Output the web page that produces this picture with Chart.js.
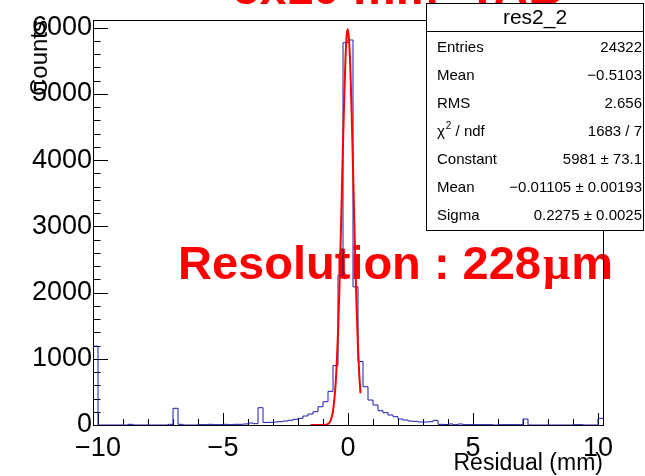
<!DOCTYPE html>
<html><head><meta charset="utf-8">
<script src="https://cdn.jsdelivr.net/npm/chart.js@4"></script>
<style>html,body{margin:0;padding:0;background:#fff;}canvas{display:block;}</style>
</head><body>
<canvas id="c" width="645" height="476"></canvas>
<script>
// ---- data ----
const xMin = -10.2, xMax = 10.2, binWidth = 0.2;
const binCounts = [
 1191, 0, 0, 0, 0, 0, 0, 10, 0, 0,
 0, 0, 0, 0, 0, 10, 252, 10, 0, 0,
 0, 5, 5, 10, 5, 5, 10, 5, 10, 10,
 15, 30, 20, 261, 38, 40, 45, 50, 60, 71,
 86, 101, 136, 166, 201, 276, 352, 508, 898, 2265,
 5773, 5814, 2086, 960, 578, 377, 302, 216, 186, 151,
 126, 90, 75, 60, 55, 45, 45, 50, 70, 10,
 8, 15, 5, 15, 5, 5, 5, 5, 5, 5,
 0, 5, 5, 5, 5, 5, 90, 0, 0, 0,
 0, 0, 0, 0, 0, 0, 5, 5, 0, 0,
 0, 100
];
const yMax = 6116;
const xTickLabels = [-10, -5, 0, 5, 10];
const yTickLabels = [0, 1000, 2000, 3000, 4000, 5000, 6000];
const fitX = [-1.5,-1.3,-1.1,-1.0,-0.9,-0.8,-0.7,-0.6,-0.5,-0.45,-0.4,-0.35,-0.3,-0.25,-0.2,-0.15,-0.1,-0.05,-0.011,0.05,0.1,0.15,0.2,0.25,0.3,0.35,0.4,0.45,0.5];
const fitY = [0,0,0,0.5,3,15,61,210,595,930,1388,1971,2671,3448,4237,4962,5541,5894,5981,5770,5311,4656,3889,3097,2349,1698,1171,768,480];
const statTitle = 'res2_2';
const statLabels = ['Entries','Mean','RMS','CHI','Constant','Mean','Sigma'];
const statValues = ['24322','\u22120.5103','2.656','1683 / 7','5981 \u00b1 73.1','\u22120.01105 \u00b1 0.00193','0.2275 \u00b1 0.0025'];
const titleText = '5x10 mm\u00b2 TAB';
const resText = ['Resolution : 228', '\u03bc', 'm'];
const xTitle = 'Residual (mm)';
const yTitle = 'Counts';

// ---- build ----
const F = "'Liberation Sans', Arial, Helvetica, sans-serif";
const FS = "'Liberation Serif', 'Times New Roman', serif";
const fmt = v => (v < 0 ? '\u2212' + Math.abs(v) : String(v));
const histPoints = binCounts.map((c, i) => ({x: xMin + i * binWidth, y: c}));
histPoints.push({x: xMax, y: binCounts[binCounts.length - 1]});
const fitPoints = fitX.map((x, i) => ({x: x, y: fitY[i]}));

const decor = {
  id: 'decor',
  beforeDatasetsDraw(chart) {
    const ctx = chart.ctx, a = chart.chartArea;
    const xs = chart.scales.x, ys = chart.scales.y;
    ctx.save();
    // resolution text (under histogram)
    ctx.fillStyle = '#ff0000';
    ctx.textBaseline = 'alphabetic';
    ctx.textAlign = 'left';
    let px = 178;
    ctx.font = 'bold 47px ' + F;
    ctx.fillText(resText[0], px, 279);
    px += ctx.measureText(resText[0]).width + 2;
    ctx.font = 'bold 48px ' + FS;
    ctx.fillText(resText[1], px, 279);
    px += ctx.measureText(resText[1]).width + 1;
    ctx.font = 'bold 47px ' + F;
    ctx.fillText(resText[2], px, 279);
    // frame
    ctx.strokeStyle = '#000';
    ctx.lineWidth = 1;
    ctx.strokeRect(Math.round(a.left) + 0.5, Math.round(a.top) + 0.5, Math.round(a.right - a.left), Math.round(a.bottom - a.top));
    // ticks
    ctx.beginPath();
    for (let v = 0; v <= yMax; v += 200) {
      const y = Math.round(ys.getPixelForValue(v)) + 0.5;
      const len = (v % 1000 === 0) ? 15 : 7.5;
      ctx.moveTo(a.left, y); ctx.lineTo(a.left + len, y);
    }
    for (let v = -10; v <= 10; v += 1) {
      const x = Math.round(xs.getPixelForValue(v)) + 0.5;
      const len = (v % 5 === 0) ? 12 : 6;
      ctx.moveTo(x, a.bottom); ctx.lineTo(x, a.bottom - len);
    }
    ctx.stroke();
    ctx.restore();
  },
  afterDraw(chart) {
    const ctx = chart.ctx, a = chart.chartArea;
    ctx.save();
    ctx.fillStyle = '#000';
    // axis titles
    ctx.font = '23px ' + F;
    ctx.textAlign = 'right';
    ctx.textBaseline = 'alphabetic';
    ctx.fillText(xTitle, a.right, 470);
    ctx.save();
    ctx.translate(47, a.top);
    ctx.rotate(-Math.PI / 2);
    ctx.font = '24px ' + F;
    ctx.textAlign = 'right';
    ctx.fillText(yTitle, 0, 0);
    ctx.restore();
    // big title (cut off at top)
    ctx.fillStyle = '#ff0000';
    ctx.font = 'bold 48px ' + F;
    ctx.textAlign = 'left';
    ctx.fillText(titleText, 233, 4);
    // stats box
    const bx = 426.5, by = 3.5, bw = 217, bh = 227;
    ctx.fillStyle = '#fff';
    ctx.fillRect(bx, by, bw, bh);
    ctx.strokeStyle = '#000';
    ctx.lineWidth = 1;
    ctx.strokeRect(bx, by, bw, bh);
    ctx.beginPath();
    ctx.moveTo(bx, 31.5); ctx.lineTo(bx + bw, 31.5);
    ctx.stroke();
    ctx.fillStyle = '#000';
    ctx.font = '21px ' + F;
    ctx.textAlign = 'center';
    ctx.fillText(statTitle, bx + bw / 2, 23.5);
    ctx.font = '15px ' + F;
    for (let i = 0; i < statLabels.length; i++) {
      const yb = 51.5 + i * 28.1;
      ctx.textAlign = 'left';
      if (statLabels[i] === 'CHI') {
        ctx.fillText('\u03c7', 437, yb);
        let w = ctx.measureText('\u03c7').width;
        ctx.font = '10px ' + F;
        ctx.fillText('2', 437 + w + 1, yb - 7);
        let w2 = ctx.measureText('2').width;
        ctx.font = '15px ' + F;
        ctx.fillText(' / ndf', 437 + w + 1 + w2, yb);
      } else {
        ctx.fillText(statLabels[i], 437, yb);
      }
      ctx.textAlign = 'right';
      ctx.fillText(statValues[i], 642, yb);
    }
    ctx.restore();
  }
};

new Chart(document.getElementById('c'), {
  type: 'line',
  data: {
    datasets: [
      { data: fitPoints, borderColor: '#ff0000', borderWidth: 2, pointRadius: 0, cubicInterpolationMode: 'monotone', fill: false },
      { data: histPoints, borderColor: '#1c1cb0', borderWidth: 1, pointRadius: 0, stepped: 'before', fill: false }
    ]
  },
  options: {
    responsive: false, animation: false, devicePixelRatio: 1,
    layout: { padding: { top: 20, right: 42, left: 0, bottom: 0 } },
    plugins: { legend: { display: false }, tooltip: { enabled: false } },
    scales: {
      x: {
        type: 'linear', min: xMin, max: xMax,
        grid: { display: false, drawTicks: false }, border: { display: false },
        afterBuildTicks: s => { s.ticks = xTickLabels.map(v => ({ value: v })); },
        afterFit: s => { s.height = 51; },
        ticks: { autoSkip: false, maxRotation: 0, padding: 7, color: '#000', font: { family: F, size: 27 }, callback: v => fmt(v) }
      },
      y: {
        type: 'linear', min: 0, max: yMax,
        grid: { display: false, drawTicks: false }, border: { display: false },
        afterBuildTicks: s => { s.ticks = yTickLabels.map(v => ({ value: v })); },
        afterFit: s => { s.width = 93; },
        ticks: { autoSkip: false, padding: 1, color: '#000', font: { family: F, size: 27 }, callback: v => fmt(v) }
      }
    }
  },
  plugins: [decor]
});
</script>
</body></html>
